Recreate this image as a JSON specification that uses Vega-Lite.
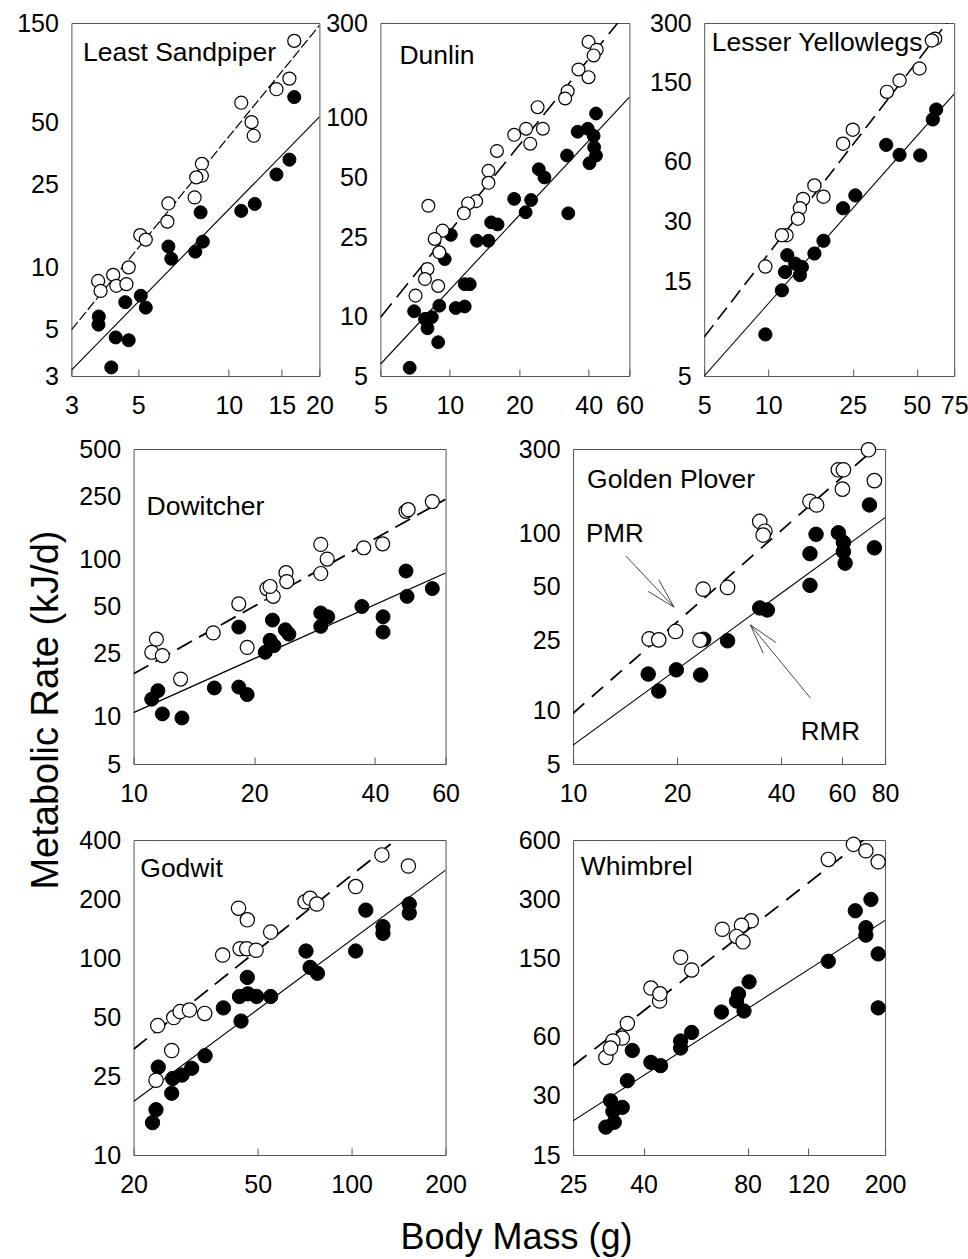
{
"$schema": "https://vega.github.io/schema/vega-lite/v6.json",
"background": "white",
"padding": {"left": 16, "top": 10, "right": 2, "bottom": 2},
"title": {"text": "Metabolic Rate (kJ/d)", "orient": "left", "anchor": "middle", "frame": "bounds", "fontSize": 38, "offset": -49.4, "dx": -77, "baseline": "top"},
"config": {
  "font": "Liberation Sans",
  "view": {"stroke": "#555", "strokeWidth": 1},
  "axis": {"grid": false, "domain": false, "labelFont": "Liberation Sans", "labelFontSize": 25, "labelColor": "black", "labelOverlap": false, "labelFlush": false, "labelBound": false, "titleFont": "Liberation Sans", "titleFontWeight": "normal", "titleColor": "black"},
  "axisX": {"ticks": true, "tickSize": -7, "tickColor": "#555", "tickWidth": 1, "labelPadding": 24},
  "axisY": {"ticks": false, "labelPadding": 13},
  "title": {"font": "Liberation Sans", "fontSize": 26.5, "fontWeight": "normal", "color": "black", "anchor": "start", "frame": "group", "baseline": "top"}
},
"datasets": {
  "points": [
    {"species":"Least Sandpiper","type":"PMR","mass":16.5,"rate":123},
    {"species":"Least Sandpiper","type":"PMR","mass":15.9,"rate":81},
    {"species":"Least Sandpiper","type":"PMR","mass":14.4,"rate":72},
    {"species":"Least Sandpiper","type":"PMR","mass":11.0,"rate":62},
    {"species":"Least Sandpiper","type":"PMR","mass":11.9,"rate":50},
    {"species":"Least Sandpiper","type":"PMR","mass":12.1,"rate":43},
    {"species":"Least Sandpiper","type":"PMR","mass":8.14,"rate":31.5},
    {"species":"Least Sandpiper","type":"PMR","mass":8.14,"rate":27.6},
    {"species":"Least Sandpiper","type":"PMR","mass":7.8,"rate":27.1},
    {"species":"Least Sandpiper","type":"PMR","mass":7.7,"rate":21.7},
    {"species":"Least Sandpiper","type":"PMR","mass":6.3,"rate":20.3},
    {"species":"Least Sandpiper","type":"PMR","mass":6.25,"rate":16.6},
    {"species":"Least Sandpiper","type":"PMR","mass":5.08,"rate":14.3},
    {"species":"Least Sandpiper","type":"PMR","mass":5.3,"rate":13.6},
    {"species":"Least Sandpiper","type":"PMR","mass":4.65,"rate":10},
    {"species":"Least Sandpiper","type":"PMR","mass":4.13,"rate":9.2},
    {"species":"Least Sandpiper","type":"PMR","mass":3.68,"rate":8.6},
    {"species":"Least Sandpiper","type":"PMR","mass":3.75,"rate":7.7},
    {"species":"Least Sandpiper","type":"PMR","mass":4.23,"rate":8.15},
    {"species":"Least Sandpiper","type":"PMR","mass":4.57,"rate":8.3},
    {"species":"Least Sandpiper","type":"RMR","mass":16.5,"rate":66},
    {"species":"Least Sandpiper","type":"RMR","mass":15.9,"rate":33},
    {"species":"Least Sandpiper","type":"RMR","mass":14.4,"rate":28},
    {"species":"Least Sandpiper","type":"RMR","mass":12.2,"rate":20.2},
    {"species":"Least Sandpiper","type":"RMR","mass":11.0,"rate":18.7},
    {"species":"Least Sandpiper","type":"RMR","mass":8.06,"rate":18.4},
    {"species":"Least Sandpiper","type":"RMR","mass":8.2,"rate":13.3},
    {"species":"Least Sandpiper","type":"RMR","mass":7.74,"rate":11.9},
    {"species":"Least Sandpiper","type":"RMR","mass":6.3,"rate":12.6},
    {"species":"Least Sandpiper","type":"RMR","mass":6.44,"rate":11.0},
    {"species":"Least Sandpiper","type":"RMR","mass":5.1,"rate":7.3},
    {"species":"Least Sandpiper","type":"RMR","mass":5.3,"rate":6.4},
    {"species":"Least Sandpiper","type":"RMR","mass":4.53,"rate":6.8},
    {"species":"Least Sandpiper","type":"RMR","mass":3.7,"rate":5.8},
    {"species":"Least Sandpiper","type":"RMR","mass":3.69,"rate":5.3},
    {"species":"Least Sandpiper","type":"RMR","mass":4.21,"rate":4.6},
    {"species":"Least Sandpiper","type":"RMR","mass":4.65,"rate":4.46},
    {"species":"Least Sandpiper","type":"RMR","mass":4.07,"rate":3.3},
    {"species":"Dunlin","type":"PMR","mass":39.9,"rate":241},
    {"species":"Dunlin","type":"PMR","mass":43.3,"rate":220},
    {"species":"Dunlin","type":"PMR","mass":42,"rate":206},
    {"species":"Dunlin","type":"PMR","mass":36.1,"rate":175},
    {"species":"Dunlin","type":"PMR","mass":39.9,"rate":160},
    {"species":"Dunlin","type":"PMR","mass":32.4,"rate":136},
    {"species":"Dunlin","type":"PMR","mass":31.6,"rate":125},
    {"species":"Dunlin","type":"PMR","mass":24,"rate":113},
    {"species":"Dunlin","type":"PMR","mass":25.3,"rate":88},
    {"species":"Dunlin","type":"PMR","mass":21.4,"rate":88},
    {"species":"Dunlin","type":"PMR","mass":19,"rate":82},
    {"species":"Dunlin","type":"PMR","mass":22.3,"rate":74},
    {"species":"Dunlin","type":"PMR","mass":16,"rate":68},
    {"species":"Dunlin","type":"PMR","mass":14.7,"rate":54},
    {"species":"Dunlin","type":"PMR","mass":14.7,"rate":47},
    {"species":"Dunlin","type":"PMR","mass":13,"rate":38},
    {"species":"Dunlin","type":"PMR","mass":12,"rate":37},
    {"species":"Dunlin","type":"PMR","mass":11.5,"rate":33},
    {"species":"Dunlin","type":"PMR","mass":8.07,"rate":36},
    {"species":"Dunlin","type":"PMR","mass":9.3,"rate":27},
    {"species":"Dunlin","type":"PMR","mass":8.6,"rate":24.5},
    {"species":"Dunlin","type":"PMR","mass":9.0,"rate":21},
    {"species":"Dunlin","type":"PMR","mass":8.0,"rate":17.3},
    {"species":"Dunlin","type":"PMR","mass":7.8,"rate":15.4},
    {"species":"Dunlin","type":"PMR","mass":8.9,"rate":14.2},
    {"species":"Dunlin","type":"PMR","mass":7.1,"rate":12.7},
    {"species":"Dunlin","type":"RMR","mass":43,"rate":105},
    {"species":"Dunlin","type":"RMR","mass":35.8,"rate":85},
    {"species":"Dunlin","type":"RMR","mass":39.6,"rate":88},
    {"species":"Dunlin","type":"RMR","mass":42,"rate":81},
    {"species":"Dunlin","type":"RMR","mass":42.2,"rate":71},
    {"species":"Dunlin","type":"RMR","mass":43,"rate":64.5},
    {"species":"Dunlin","type":"RMR","mass":40.3,"rate":59},
    {"species":"Dunlin","type":"RMR","mass":32.2,"rate":64.5},
    {"species":"Dunlin","type":"RMR","mass":32.6,"rate":33},
    {"species":"Dunlin","type":"RMR","mass":24.3,"rate":55},
    {"species":"Dunlin","type":"RMR","mass":25.7,"rate":50},
    {"species":"Dunlin","type":"RMR","mass":19,"rate":39},
    {"species":"Dunlin","type":"RMR","mass":22.5,"rate":38.5},
    {"species":"Dunlin","type":"RMR","mass":21.3,"rate":33.4},
    {"species":"Dunlin","type":"RMR","mass":15.1,"rate":29.7},
    {"species":"Dunlin","type":"RMR","mass":16.1,"rate":29},
    {"species":"Dunlin","type":"RMR","mass":13.1,"rate":24},
    {"species":"Dunlin","type":"RMR","mass":14.7,"rate":24},
    {"species":"Dunlin","type":"RMR","mass":10.1,"rate":25.7},
    {"species":"Dunlin","type":"RMR","mass":9.5,"rate":19.4},
    {"species":"Dunlin","type":"RMR","mass":11.6,"rate":14.5},
    {"species":"Dunlin","type":"RMR","mass":12.2,"rate":14.5},
    {"species":"Dunlin","type":"RMR","mass":10.6,"rate":11},
    {"species":"Dunlin","type":"RMR","mass":11.6,"rate":11.2},
    {"species":"Dunlin","type":"RMR","mass":9.0,"rate":11.3},
    {"species":"Dunlin","type":"RMR","mass":7.0,"rate":10.6},
    {"species":"Dunlin","type":"RMR","mass":7.8,"rate":9.7},
    {"species":"Dunlin","type":"RMR","mass":8.0,"rate":8.7},
    {"species":"Dunlin","type":"RMR","mass":8.35,"rate":9.9},
    {"species":"Dunlin","type":"RMR","mass":8.9,"rate":7.4},
    {"species":"Dunlin","type":"RMR","mass":6.7,"rate":5.5},
    {"species":"Lesser Yellowlegs","type":"PMR","mass":61,"rate":250},
    {"species":"Lesser Yellowlegs","type":"PMR","mass":58.9,"rate":245},
    {"species":"Lesser Yellowlegs","type":"PMR","mass":51.5,"rate":177},
    {"species":"Lesser Yellowlegs","type":"PMR","mass":41.5,"rate":154},
    {"species":"Lesser Yellowlegs","type":"PMR","mass":36.2,"rate":135},
    {"species":"Lesser Yellowlegs","type":"PMR","mass":25,"rate":87},
    {"species":"Lesser Yellowlegs","type":"PMR","mass":22.5,"rate":74},
    {"species":"Lesser Yellowlegs","type":"PMR","mass":16.5,"rate":45.6},
    {"species":"Lesser Yellowlegs","type":"PMR","mass":18.2,"rate":40},
    {"species":"Lesser Yellowlegs","type":"PMR","mass":14.6,"rate":39},
    {"species":"Lesser Yellowlegs","type":"PMR","mass":14.1,"rate":35},
    {"species":"Lesser Yellowlegs","type":"PMR","mass":13.8,"rate":31},
    {"species":"Lesser Yellowlegs","type":"PMR","mass":12.2,"rate":25.6},
    {"species":"Lesser Yellowlegs","type":"PMR","mass":11.6,"rate":25.6},
    {"species":"Lesser Yellowlegs","type":"PMR","mass":9.7,"rate":17.8},
    {"species":"Lesser Yellowlegs","type":"RMR","mass":61.7,"rate":110},
    {"species":"Lesser Yellowlegs","type":"RMR","mass":59.5,"rate":98},
    {"species":"Lesser Yellowlegs","type":"RMR","mass":35.9,"rate":73},
    {"species":"Lesser Yellowlegs","type":"RMR","mass":41.5,"rate":65},
    {"species":"Lesser Yellowlegs","type":"RMR","mass":51.9,"rate":64.6},
    {"species":"Lesser Yellowlegs","type":"RMR","mass":25.7,"rate":40.6},
    {"species":"Lesser Yellowlegs","type":"RMR","mass":22.5,"rate":35},
    {"species":"Lesser Yellowlegs","type":"RMR","mass":18.2,"rate":24},
    {"species":"Lesser Yellowlegs","type":"RMR","mass":16.5,"rate":20.7},
    {"species":"Lesser Yellowlegs","type":"RMR","mass":12.3,"rate":20.3},
    {"species":"Lesser Yellowlegs","type":"RMR","mass":14.4,"rate":17.7},
    {"species":"Lesser Yellowlegs","type":"RMR","mass":13.4,"rate":18.4},
    {"species":"Lesser Yellowlegs","type":"RMR","mass":12,"rate":16.7},
    {"species":"Lesser Yellowlegs","type":"RMR","mass":14.1,"rate":16.1},
    {"species":"Lesser Yellowlegs","type":"RMR","mass":11.6,"rate":13.5},
    {"species":"Lesser Yellowlegs","type":"RMR","mass":9.7,"rate":8.1},
    {"species":"Dowitcher","type":"PMR","mass":55.6,"rate":232},
    {"species":"Dowitcher","type":"PMR","mass":47.8,"rate":201},
    {"species":"Dowitcher","type":"PMR","mass":48.4,"rate":206},
    {"species":"Dowitcher","type":"PMR","mass":41.8,"rate":125},
    {"species":"Dowitcher","type":"PMR","mass":37.5,"rate":118},
    {"species":"Dowitcher","type":"PMR","mass":29.3,"rate":124},
    {"species":"Dowitcher","type":"PMR","mass":30.4,"rate":100},
    {"species":"Dowitcher","type":"PMR","mass":29.3,"rate":81},
    {"species":"Dowitcher","type":"PMR","mass":24,"rate":82},
    {"species":"Dowitcher","type":"PMR","mass":24.1,"rate":72},
    {"species":"Dowitcher","type":"PMR","mass":21.5,"rate":65},
    {"species":"Dowitcher","type":"PMR","mass":22.3,"rate":58},
    {"species":"Dowitcher","type":"PMR","mass":21.9,"rate":67},
    {"species":"Dowitcher","type":"PMR","mass":18.3,"rate":52},
    {"species":"Dowitcher","type":"PMR","mass":15.8,"rate":34},
    {"species":"Dowitcher","type":"PMR","mass":19.2,"rate":27.5},
    {"species":"Dowitcher","type":"PMR","mass":11.4,"rate":31},
    {"species":"Dowitcher","type":"PMR","mass":11.1,"rate":25.6},
    {"species":"Dowitcher","type":"PMR","mass":11.8,"rate":24.4},
    {"species":"Dowitcher","type":"PMR","mass":13.1,"rate":17.3},
    {"species":"Dowitcher","type":"RMR","mass":47.8,"rate":84},
    {"species":"Dowitcher","type":"RMR","mass":48.1,"rate":58},
    {"species":"Dowitcher","type":"RMR","mass":55.6,"rate":65},
    {"species":"Dowitcher","type":"RMR","mass":37.1,"rate":50},
    {"species":"Dowitcher","type":"RMR","mass":41.9,"rate":43},
    {"species":"Dowitcher","type":"RMR","mass":41.9,"rate":34.4},
    {"species":"Dowitcher","type":"RMR","mass":29.3,"rate":45.5},
    {"species":"Dowitcher","type":"RMR","mass":30.5,"rate":43},
    {"species":"Dowitcher","type":"RMR","mass":29.3,"rate":37.4},
    {"species":"Dowitcher","type":"RMR","mass":22.2,"rate":41},
    {"species":"Dowitcher","type":"RMR","mass":23.9,"rate":35.6},
    {"species":"Dowitcher","type":"RMR","mass":24.4,"rate":33.4},
    {"species":"Dowitcher","type":"RMR","mass":21.9,"rate":30.5},
    {"species":"Dowitcher","type":"RMR","mass":22.4,"rate":28.2},
    {"species":"Dowitcher","type":"RMR","mass":21.3,"rate":25.6},
    {"species":"Dowitcher","type":"RMR","mass":18.3,"rate":37},
    {"species":"Dowitcher","type":"RMR","mass":15.9,"rate":15.2},
    {"species":"Dowitcher","type":"RMR","mass":18.3,"rate":15.4},
    {"species":"Dowitcher","type":"RMR","mass":19.2,"rate":13.8},
    {"species":"Dowitcher","type":"RMR","mass":11.5,"rate":14.6},
    {"species":"Dowitcher","type":"RMR","mass":11.1,"rate":12.9},
    {"species":"Dowitcher","type":"RMR","mass":11.8,"rate":10.4},
    {"species":"Dowitcher","type":"RMR","mass":13.2,"rate":9.8},
    {"species":"Golden Plover","type":"PMR","mass":71.6,"rate":297},
    {"species":"Golden Plover","type":"PMR","mass":58.6,"rate":229},
    {"species":"Golden Plover","type":"PMR","mass":60.6,"rate":229},
    {"species":"Golden Plover","type":"PMR","mass":74.5,"rate":199},
    {"species":"Golden Plover","type":"PMR","mass":60.2,"rate":178},
    {"species":"Golden Plover","type":"PMR","mass":48.5,"rate":152},
    {"species":"Golden Plover","type":"PMR","mass":50.7,"rate":145},
    {"species":"Golden Plover","type":"PMR","mass":34.7,"rate":117},
    {"species":"Golden Plover","type":"PMR","mass":35.9,"rate":103},
    {"species":"Golden Plover","type":"PMR","mass":35.5,"rate":98},
    {"species":"Golden Plover","type":"PMR","mass":23.8,"rate":48.5},
    {"species":"Golden Plover","type":"PMR","mass":28,"rate":49.6},
    {"species":"Golden Plover","type":"PMR","mass":19.8,"rate":28},
    {"species":"Golden Plover","type":"PMR","mass":16.6,"rate":25.4},
    {"species":"Golden Plover","type":"PMR","mass":17.7,"rate":25.1},
    {"species":"Golden Plover","type":"PMR","mass":23.3,"rate":25},
    {"species":"Golden Plover","type":"RMR","mass":72.1,"rate":145},
    {"species":"Golden Plover","type":"RMR","mass":50.5,"rate":99},
    {"species":"Golden Plover","type":"RMR","mass":58.6,"rate":101},
    {"species":"Golden Plover","type":"RMR","mass":60.6,"rate":89},
    {"species":"Golden Plover","type":"RMR","mass":60.6,"rate":79},
    {"species":"Golden Plover","type":"RMR","mass":61.3,"rate":68},
    {"species":"Golden Plover","type":"RMR","mass":74.5,"rate":83},
    {"species":"Golden Plover","type":"RMR","mass":48.5,"rate":77},
    {"species":"Golden Plover","type":"RMR","mass":48.5,"rate":51},
    {"species":"Golden Plover","type":"RMR","mass":34.7,"rate":38},
    {"species":"Golden Plover","type":"RMR","mass":36.5,"rate":37},
    {"species":"Golden Plover","type":"RMR","mass":23.9,"rate":25.3},
    {"species":"Golden Plover","type":"RMR","mass":28,"rate":24.8},
    {"species":"Golden Plover","type":"RMR","mass":19.9,"rate":17},
    {"species":"Golden Plover","type":"RMR","mass":23.4,"rate":15.9},
    {"species":"Golden Plover","type":"RMR","mass":16.5,"rate":16.1},
    {"species":"Golden Plover","type":"RMR","mass":17.7,"rate":12.9},
    {"species":"Godwit","type":"PMR","mass":125,"rate":336},
    {"species":"Godwit","type":"PMR","mass":152,"rate":295},
    {"species":"Godwit","type":"PMR","mass":103,"rate":232},
    {"species":"Godwit","type":"PMR","mass":70.9,"rate":194},
    {"species":"Godwit","type":"PMR","mass":73.6,"rate":202},
    {"species":"Godwit","type":"PMR","mass":77.3,"rate":189},
    {"species":"Godwit","type":"PMR","mass":43.4,"rate":180},
    {"species":"Godwit","type":"PMR","mass":46.3,"rate":157},
    {"species":"Godwit","type":"PMR","mass":55,"rate":136},
    {"species":"Godwit","type":"PMR","mass":38.6,"rate":104},
    {"species":"Godwit","type":"PMR","mass":43.9,"rate":112},
    {"species":"Godwit","type":"PMR","mass":46.1,"rate":112},
    {"species":"Godwit","type":"PMR","mass":49.4,"rate":110},
    {"species":"Godwit","type":"PMR","mass":23.9,"rate":45.5},
    {"species":"Godwit","type":"PMR","mass":26.9,"rate":50},
    {"species":"Godwit","type":"PMR","mass":28.2,"rate":53.6},
    {"species":"Godwit","type":"PMR","mass":30.2,"rate":54.6},
    {"species":"Godwit","type":"PMR","mass":33.8,"rate":52.5},
    {"species":"Godwit","type":"PMR","mass":26.5,"rate":34},
    {"species":"Godwit","type":"PMR","mass":23.6,"rate":24},
    {"species":"Godwit","type":"RMR","mass":153,"rate":189},
    {"species":"Godwit","type":"RMR","mass":153,"rate":170},
    {"species":"Godwit","type":"RMR","mass":111,"rate":176},
    {"species":"Godwit","type":"RMR","mass":126,"rate":145},
    {"species":"Godwit","type":"RMR","mass":126,"rate":134},
    {"species":"Godwit","type":"RMR","mass":103,"rate":109},
    {"species":"Godwit","type":"RMR","mass":71.4,"rate":109},
    {"species":"Godwit","type":"RMR","mass":73.6,"rate":90},
    {"species":"Godwit","type":"RMR","mass":77.7,"rate":84},
    {"species":"Godwit","type":"RMR","mass":46.3,"rate":80},
    {"species":"Godwit","type":"RMR","mass":43.7,"rate":64},
    {"species":"Godwit","type":"RMR","mass":46.5,"rate":66},
    {"species":"Godwit","type":"RMR","mass":49.6,"rate":64},
    {"species":"Godwit","type":"RMR","mass":55,"rate":64},
    {"species":"Godwit","type":"RMR","mass":38.8,"rate":56},
    {"species":"Godwit","type":"RMR","mass":44.2,"rate":48},
    {"species":"Godwit","type":"RMR","mass":33.9,"rate":32},
    {"species":"Godwit","type":"RMR","mass":30.7,"rate":27.6},
    {"species":"Godwit","type":"RMR","mass":28.6,"rate":25.5},
    {"species":"Godwit","type":"RMR","mass":26.7,"rate":24.5},
    {"species":"Godwit","type":"RMR","mass":24,"rate":28},
    {"species":"Godwit","type":"RMR","mass":26.5,"rate":20.6},
    {"species":"Godwit","type":"RMR","mass":23.6,"rate":17},
    {"species":"Godwit","type":"RMR","mass":23,"rate":14.6},
    {"species":"Whimbrel","type":"PMR","mass":162,"rate":570},
    {"species":"Whimbrel","type":"PMR","mass":176,"rate":529},
    {"species":"Whimbrel","type":"PMR","mass":191,"rate":465},
    {"species":"Whimbrel","type":"PMR","mass":137,"rate":478},
    {"species":"Whimbrel","type":"PMR","mass":82,"rate":233},
    {"species":"Whimbrel","type":"PMR","mass":76.8,"rate":221},
    {"species":"Whimbrel","type":"PMR","mass":67.6,"rate":211},
    {"species":"Whimbrel","type":"PMR","mass":74.3,"rate":194},
    {"species":"Whimbrel","type":"PMR","mass":77.6,"rate":182},
    {"species":"Whimbrel","type":"PMR","mass":51.2,"rate":152},
    {"species":"Whimbrel","type":"PMR","mass":55.1,"rate":131},
    {"species":"Whimbrel","type":"PMR","mass":42,"rate":106},
    {"species":"Whimbrel","type":"PMR","mass":44.5,"rate":91},
    {"species":"Whimbrel","type":"PMR","mass":44.6,"rate":99},
    {"species":"Whimbrel","type":"PMR","mass":35.9,"rate":70},
    {"species":"Whimbrel","type":"PMR","mass":34.7,"rate":59},
    {"species":"Whimbrel","type":"PMR","mass":32.6,"rate":57},
    {"species":"Whimbrel","type":"PMR","mass":31.1,"rate":47},
    {"species":"Whimbrel","type":"PMR","mass":32.1,"rate":52.5},
    {"species":"Whimbrel","type":"RMR","mass":182,"rate":299},
    {"species":"Whimbrel","type":"RMR","mass":164,"rate":262},
    {"species":"Whimbrel","type":"RMR","mass":176,"rate":215},
    {"species":"Whimbrel","type":"RMR","mass":176,"rate":197},
    {"species":"Whimbrel","type":"RMR","mass":191,"rate":158},
    {"species":"Whimbrel","type":"RMR","mass":191,"rate":84},
    {"species":"Whimbrel","type":"RMR","mass":137,"rate":145},
    {"species":"Whimbrel","type":"RMR","mass":80.8,"rate":114},
    {"species":"Whimbrel","type":"RMR","mass":75.3,"rate":99},
    {"species":"Whimbrel","type":"RMR","mass":74.3,"rate":91},
    {"species":"Whimbrel","type":"RMR","mass":78.1,"rate":81},
    {"species":"Whimbrel","type":"RMR","mass":67.2,"rate":80},
    {"species":"Whimbrel","type":"RMR","mass":55.1,"rate":63},
    {"species":"Whimbrel","type":"RMR","mass":51.2,"rate":57},
    {"species":"Whimbrel","type":"RMR","mass":51.2,"rate":52.5},
    {"species":"Whimbrel","type":"RMR","mass":42,"rate":44.4},
    {"species":"Whimbrel","type":"RMR","mass":44.8,"rate":42.7},
    {"species":"Whimbrel","type":"RMR","mass":37.1,"rate":51},
    {"species":"Whimbrel","type":"RMR","mass":35.9,"rate":35.8},
    {"species":"Whimbrel","type":"RMR","mass":32.1,"rate":28.3},
    {"species":"Whimbrel","type":"RMR","mass":34.7,"rate":26.2},
    {"species":"Whimbrel","type":"RMR","mass":32.6,"rate":25},
    {"species":"Whimbrel","type":"RMR","mass":32.9,"rate":22},
    {"species":"Whimbrel","type":"RMR","mass":31.1,"rate":20.8}
  ],
  "lines": [
    {"species":"Least Sandpiper","type":"PMR","mass":3,"rate":5},
    {"species":"Least Sandpiper","type":"PMR","mass":20,"rate":146},
    {"species":"Least Sandpiper","type":"RMR","mass":3,"rate":3.2},
    {"species":"Least Sandpiper","type":"RMR","mass":20,"rate":53},
    {"species":"Dunlin","type":"PMR","mass":5,"rate":9.85},
    {"species":"Dunlin","type":"PMR","mass":60,"rate":355},
    {"species":"Dunlin","type":"RMR","mass":5,"rate":5.73},
    {"species":"Dunlin","type":"RMR","mass":60,"rate":127},
    {"species":"Lesser Yellowlegs","type":"PMR","mass":5,"rate":7.86},
    {"species":"Lesser Yellowlegs","type":"PMR","mass":75,"rate":335},
    {"species":"Lesser Yellowlegs","type":"RMR","mass":5,"rate":5.0},
    {"species":"Lesser Yellowlegs","type":"RMR","mass":75,"rate":132},
    {"species":"Dowitcher","type":"PMR","mass":10,"rate":18.7},
    {"species":"Dowitcher","type":"PMR","mass":60,"rate":240},
    {"species":"Dowitcher","type":"RMR","mass":10,"rate":10.6},
    {"species":"Dowitcher","type":"RMR","mass":60,"rate":81.6},
    {"species":"Golden Plover","type":"PMR","mass":10,"rate":9.67},
    {"species":"Golden Plover","type":"PMR","mass":80,"rate":340},
    {"species":"Golden Plover","type":"RMR","mass":10,"rate":6.4},
    {"species":"Golden Plover","type":"RMR","mass":80,"rate":123},
    {"species":"Godwit","type":"PMR","mass":20,"rate":34.5},
    {"species":"Godwit","type":"PMR","mass":200,"rate":638},
    {"species":"Godwit","type":"RMR","mass":20,"rate":18.7},
    {"species":"Godwit","type":"RMR","mass":200,"rate":281},
    {"species":"Whimbrel","type":"PMR","mass":25,"rate":42.7},
    {"species":"Whimbrel","type":"PMR","mass":200,"rate":730},
    {"species":"Whimbrel","type":"RMR","mass":25,"rate":22.4},
    {"species":"Whimbrel","type":"RMR","mass":200,"rate":234}
  ],
  "labels": [
    {"species":"Golden Plover","label":"PMR","mass":10.9,"rate":100},
    {"species":"Golden Plover","label":"RMR","mass":45.6,"rate":7.55}
  ],
  "arrows": [
    {"species":"Golden Plover","mass":14.2,"rate":74.9,"mass2":19.6,"rate2":38.4},
    {"species":"Golden Plover","mass":19.6,"rate":38.4,"mass2":17.7,"rate2":54.8},
    {"species":"Golden Plover","mass":19.6,"rate":38.4,"mass2":16.5,"rate2":47.1},
    {"species":"Golden Plover","mass":48.7,"rate":11.75,"mass2":32.6,"rate2":30.5},
    {"species":"Golden Plover","mass":32.6,"rate":30.5,"mass2":38.7,"rate2":24.2},
    {"species":"Golden Plover","mass":32.6,"rate":30.5,"mass2":35.5,"rate2":21.1}
  ]
},
"vconcat": [
  {
    "hconcat": [
      {
        "hconcat": [
          {
            "width": 248, "height": 353,
            "title": {"text": "Least Sandpiper", "dx": 11.6, "offset": -55.1},
            "encoding": {
              "x": {"field": "mass", "type": "quantitative", "scale": {"type": "log", "domain": [3, 20], "nice": false}, "axis": {"values": [3, 5, 10, 15, 20], "format": "d", "title": null}},
              "y": {"field": "rate", "type": "quantitative", "scale": {"type": "log", "domain": [3, 150], "nice": false}, "axis": {"values": [3, 5, 10, 25, 50, 150], "format": "d", "title": null}}
            },
            "layer": [
              {"data": {"name": "lines"}, "transform": [{"filter": "datum.species === 'Least Sandpiper' && datum.type === 'PMR'"}], "mark": {"type": "line", "clip": true, "color": "black", "strokeWidth": 1.2, "strokeDash": [10, 3]}},
              {"data": {"name": "lines"}, "transform": [{"filter": "datum.species === 'Least Sandpiper' && datum.type === 'RMR'"}], "mark": {"type": "line", "clip": true, "color": "black", "strokeWidth": 1.1}},
              {"data": {"name": "points"}, "transform": [{"filter": "datum.species === 'Least Sandpiper' && datum.type === 'RMR'"}], "mark": {"type": "circle", "size": 170, "opacity": 1, "fill": "black", "stroke": "black", "strokeWidth": 1}},
              {"data": {"name": "points"}, "transform": [{"filter": "datum.species === 'Least Sandpiper' && datum.type === 'PMR'"}], "mark": {"type": "circle", "size": 170, "opacity": 1, "fill": "white", "stroke": "black", "strokeWidth": 1.2}}
            ]
          },
          {
            "width": 249, "height": 353,
            "title": {"text": "Dunlin", "dx": 19, "offset": -58.1},
            "encoding": {
              "x": {"field": "mass", "type": "quantitative", "scale": {"type": "log", "domain": [5, 60], "nice": false}, "axis": {"values": [5, 10, 20, 40, 60], "format": "d", "title": null}},
              "y": {"field": "rate", "type": "quantitative", "scale": {"type": "log", "domain": [5, 300], "nice": false}, "axis": {"values": [5, 10, 25, 50, 100, 300], "format": "d", "title": null}}
            },
            "layer": [
              {"data": {"name": "lines"}, "transform": [{"filter": "datum.species === 'Dunlin' && datum.type === 'PMR'"}], "mark": {"type": "line", "clip": true, "color": "black", "strokeWidth": 1.6, "strokeDash": [18, 8]}},
              {"data": {"name": "lines"}, "transform": [{"filter": "datum.species === 'Dunlin' && datum.type === 'RMR'"}], "mark": {"type": "line", "clip": true, "color": "black", "strokeWidth": 1.1}},
              {"data": {"name": "points"}, "transform": [{"filter": "datum.species === 'Dunlin' && datum.type === 'RMR'"}], "mark": {"type": "circle", "size": 165, "opacity": 1, "fill": "black", "stroke": "black", "strokeWidth": 1}},
              {"data": {"name": "points"}, "transform": [{"filter": "datum.species === 'Dunlin' && datum.type === 'PMR'"}], "mark": {"type": "circle", "size": 165, "opacity": 1, "fill": "white", "stroke": "black", "strokeWidth": 1.2}}
            ]
          }
        ],
        "spacing": -10
      },
      {
        "width": 250, "height": 353,
        "title": {"text": "Lesser Yellowlegs", "dx": 7.6, "offset": -45.1},
        "encoding": {
          "x": {"field": "mass", "type": "quantitative", "scale": {"type": "log", "domain": [5, 75], "nice": false}, "axis": {"values": [5, 10, 25, 50, 75], "format": "d", "title": null}},
          "y": {"field": "rate", "type": "quantitative", "scale": {"type": "log", "domain": [5, 300], "nice": false}, "axis": {"values": [5, 15, 30, 60, 150, 300], "format": "d", "title": null}}
        },
        "layer": [
          {"data": {"name": "lines"}, "transform": [{"filter": "datum.species === 'Lesser Yellowlegs' && datum.type === 'PMR'"}], "mark": {"type": "line", "clip": true, "color": "black", "strokeWidth": 1.6, "strokeDash": [15, 7]}},
          {"data": {"name": "lines"}, "transform": [{"filter": "datum.species === 'Lesser Yellowlegs' && datum.type === 'RMR'"}], "mark": {"type": "line", "clip": true, "color": "black", "strokeWidth": 1.1}},
          {"data": {"name": "points"}, "transform": [{"filter": "datum.species === 'Lesser Yellowlegs' && datum.type === 'RMR'"}], "mark": {"type": "circle", "size": 175, "opacity": 1, "fill": "black", "stroke": "black", "strokeWidth": 1}},
          {"data": {"name": "points"}, "transform": [{"filter": "datum.species === 'Lesser Yellowlegs' && datum.type === 'PMR'"}], "mark": {"type": "circle", "size": 175, "opacity": 1, "fill": "white", "stroke": "black", "strokeWidth": 1.2}}
        ]
      }
    ],
    "spacing": 3.8
  },
  {
    "concat": [
      {
        "width": 312, "height": 315,
        "title": {"text": "Dowitcher", "dx": 13, "offset": -83.1},
        "encoding": {
          "x": {"field": "mass", "type": "quantitative", "scale": {"type": "log", "domain": [10, 60], "nice": false}, "axis": {"values": [10, 20, 40, 60], "format": "d", "title": null}},
          "y": {"field": "rate", "type": "quantitative", "scale": {"type": "log", "domain": [5, 500], "nice": false}, "axis": {"values": [5, 10, 25, 50, 100, 250, 500], "format": "d", "title": null}}
        },
        "layer": [
          {"data": {"name": "lines"}, "transform": [{"filter": "datum.species === 'Dowitcher' && datum.type === 'PMR'"}], "mark": {"type": "line", "clip": true, "color": "black", "strokeWidth": 1.8, "strokeDash": [17, 8]}},
          {"data": {"name": "lines"}, "transform": [{"filter": "datum.species === 'Dowitcher' && datum.type === 'RMR'"}], "mark": {"type": "line", "clip": true, "color": "black", "strokeWidth": 1.3}},
          {"data": {"name": "points"}, "transform": [{"filter": "datum.species === 'Dowitcher' && datum.type === 'RMR'"}], "mark": {"type": "circle", "size": 195, "opacity": 1, "fill": "black", "stroke": "black", "strokeWidth": 1}},
          {"data": {"name": "points"}, "transform": [{"filter": "datum.species === 'Dowitcher' && datum.type === 'PMR'"}], "mark": {"type": "circle", "size": 195, "opacity": 1, "fill": "white", "stroke": "black", "strokeWidth": 1.2}}
        ]
      },
      {
        "width": 312, "height": 315,
        "title": {"text": "Golden Plover", "dx": 14, "offset": -56.1},
        "encoding": {
          "x": {"field": "mass", "type": "quantitative", "scale": {"type": "log", "domain": [10, 80], "nice": false}, "axis": {"values": [10, 20, 40, 60, 80], "format": "d", "title": null}},
          "y": {"field": "rate", "type": "quantitative", "scale": {"type": "log", "domain": [5, 300], "nice": false}, "axis": {"values": [5, 10, 25, 50, 100, 300], "format": "d", "title": null}}
        },
        "layer": [
          {"data": {"name": "lines"}, "transform": [{"filter": "datum.species === 'Golden Plover' && datum.type === 'PMR'"}], "mark": {"type": "line", "clip": true, "color": "black", "strokeWidth": 1.8, "strokeDash": [15, 10]}},
          {"data": {"name": "lines"}, "transform": [{"filter": "datum.species === 'Golden Plover' && datum.type === 'RMR'"}], "mark": {"type": "line", "clip": true, "color": "black", "strokeWidth": 1.1}},
          {"data": {"name": "points"}, "transform": [{"filter": "datum.species === 'Golden Plover' && datum.type === 'RMR'"}], "mark": {"type": "circle", "size": 210, "opacity": 1, "fill": "black", "stroke": "black", "strokeWidth": 1}},
          {"data": {"name": "points"}, "transform": [{"filter": "datum.species === 'Golden Plover' && datum.type === 'PMR'"}], "mark": {"type": "circle", "size": 210, "opacity": 1, "fill": "white", "stroke": "black", "strokeWidth": 1.2}},
          {"data": {"name": "arrows"}, "transform": [{"filter": "datum.species === 'Golden Plover'"}], "mark": {"type": "rule", "color": "#333", "strokeWidth": 0.9}, "encoding": {"x2": {"field": "mass2"}, "y2": {"field": "rate2"}}},
          {"data": {"name": "labels"}, "transform": [{"filter": "datum.species === 'Golden Plover'"}], "mark": {"type": "text", "align": "left", "baseline": "middle", "font": "Liberation Sans", "fontSize": 26, "color": "black"}, "encoding": {"text": {"field": "label"}}}
        ]
      },
      {
        "width": 312, "height": 315,
        "title": {"text": "Godwit", "dx": 6.7, "offset": -54.4},
        "encoding": {
          "x": {"field": "mass", "type": "quantitative", "scale": {"type": "log", "domain": [20, 200], "nice": false}, "axis": {"values": [20, 50, 100, 200], "format": "d", "title": "Body Mass (g)", "titleFontSize": 36, "titleX": 382.4, "titleY": 93.2, "titleAngle": 0, "titleAlign": "center", "titleBaseline": "alphabetic"}},
          "y": {"field": "rate", "type": "quantitative", "scale": {"type": "log", "domain": [10, 400], "nice": false}, "axis": {"values": [10, 25, 50, 100, 200, 400], "format": "d", "title": null}}
        },
        "layer": [
          {"data": {"name": "lines"}, "transform": [{"filter": "datum.species === 'Godwit' && datum.type === 'PMR'"}], "mark": {"type": "line", "clip": true, "color": "black", "strokeWidth": 1.8, "strokeDash": [17, 9]}},
          {"data": {"name": "lines"}, "transform": [{"filter": "datum.species === 'Godwit' && datum.type === 'RMR'"}], "mark": {"type": "line", "clip": true, "color": "black", "strokeWidth": 1.1}},
          {"data": {"name": "points"}, "transform": [{"filter": "datum.species === 'Godwit' && datum.type === 'RMR'"}], "mark": {"type": "circle", "size": 205, "opacity": 1, "fill": "black", "stroke": "black", "strokeWidth": 1}},
          {"data": {"name": "points"}, "transform": [{"filter": "datum.species === 'Godwit' && datum.type === 'PMR'"}], "mark": {"type": "circle", "size": 205, "opacity": 1, "fill": "white", "stroke": "black", "strokeWidth": 1.2}}
        ]
      },
      {
        "width": 312, "height": 315,
        "title": {"text": "Whimbrel", "dx": 7.7, "offset": -52.8},
        "encoding": {
          "x": {"field": "mass", "type": "quantitative", "scale": {"type": "log", "domain": [25, 200], "nice": false}, "axis": {"values": [25, 40, 80, 120, 200], "format": "d", "title": null}},
          "y": {"field": "rate", "type": "quantitative", "scale": {"type": "log", "domain": [15, 600], "nice": false}, "axis": {"values": [15, 30, 60, 150, 300, 600], "format": "d", "title": null}}
        },
        "layer": [
          {"data": {"name": "lines"}, "transform": [{"filter": "datum.species === 'Whimbrel' && datum.type === 'PMR'"}], "mark": {"type": "line", "clip": true, "color": "black", "strokeWidth": 1.8, "strokeDash": [17, 10]}},
          {"data": {"name": "lines"}, "transform": [{"filter": "datum.species === 'Whimbrel' && datum.type === 'RMR'"}], "mark": {"type": "line", "clip": true, "color": "black", "strokeWidth": 1.1}},
          {"data": {"name": "points"}, "transform": [{"filter": "datum.species === 'Whimbrel' && datum.type === 'RMR'"}], "mark": {"type": "circle", "size": 205, "opacity": 1, "fill": "black", "stroke": "black", "strokeWidth": 1}},
          {"data": {"name": "points"}, "transform": [{"filter": "datum.species === 'Whimbrel' && datum.type === 'PMR'"}], "mark": {"type": "circle", "size": 205, "opacity": 1, "fill": "white", "stroke": "black", "strokeWidth": 1.2}}
        ]
      }
    ],
    "columns": 2,
    "spacing": {"row": 76, "column": 127.5},
    "bounds": "flush"
  }
],
"spacing": 17,
"center": true
}
